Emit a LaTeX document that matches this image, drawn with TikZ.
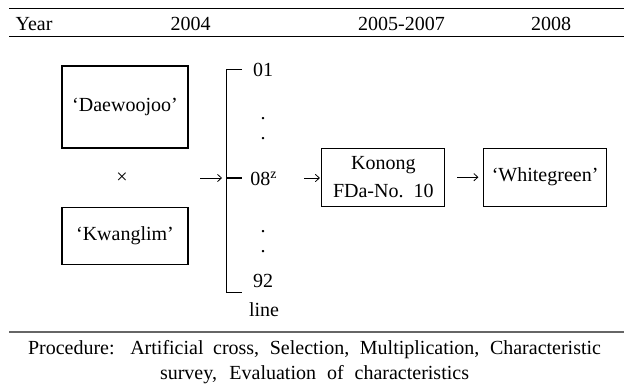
\documentclass[tikz,border=0pt]{standalone}
\usepackage{fontspec}
\setmainfont{Liberation Serif}
\usetikzlibrary{arrows.meta,positioning}
\tikzset{
  cell/.style={font=\fontsize{15}{18}\selectfont,inner sep=0pt},
  box/.style={
    draw,
    line width=0.8pt,
    align=center,
    inner sep=2pt,
    font=\fontsize{15}{20.5}\selectfont
  },
  parent/.style={box,minimum width=94.5pt},
  stage/.style={box,minimum width=92.25pt,minimum height=43.5pt},
  rule/.style={line width=1pt},
  footrule/.style={line width=1.2pt,draw=black!60},
  flow/.style={-{Straight Barb[length=3pt,width=5.5pt]},line width=0.6pt},
  bracket/.style={line width=0.8pt}
}

\begin{document}
\begin{tikzpicture}[x=0.75pt,y=-0.75pt]
  \useasboundingbox (0,0) rectangle (624,386);

  % Header rules and years.
  \draw[rule] (9,8.3) -- (624,8.3);
  \draw[rule] (9,36.7) -- (624,36.7);
  \node[cell,anchor=base] (hyear) at (34,30) {Year};
  \node[cell,anchor=base] (h2004) at (190.5,30) {2004};
  \node[cell,anchor=base] (h2005) at (401.5,30) {2005-2007};
  \node[cell,anchor=base] (h2008) at (551,30) {2008};

  % Parents and cross.
  \node[parent,minimum height=61.5pt] (dae) at (125,107) {`Daewoojoo'};
  \node[parent,minimum height=42.75pt,below=43.5pt of dae] (kwang) {`Kwanglim'};
  \node[cell] (cross) at (122,178) {×};

  % Selected lines.
  \draw[bracket] (242,69.3) -- (226.7,69.3) -- (226.7,292.3) -- (242,292.3);
  \draw[bracket] (226.7,178) coordinate (brmid) -- (242,178);
  \coordinate (join) at (200,178);
  \draw[flow,shorten >=3.5pt] (join) -- (brmid);
  \node[cell,anchor=base] (l01) at (263,76) {01};
  \node[cell] (d1) at (263,119) {.};
  \node[cell] (d2) at (263,139) {.};
  \node[cell,anchor=base west] (l08) at (250,185) {08\textsuperscript{z}};
  \node[cell] (d3) at (263,232) {.};
  \node[cell] (d4) at (263,252) {.};
  \node[cell,anchor=base] (l92) at (263,287.5) {92};
  \node[cell,anchor=base] (lline) at (264,316) {line};

  % Line test and cultivar.
  \node[stage] (konong) at (383.3,177.2) {Konong\\FDa-No.~~10};
  \node[stage,right=28.3pt of konong] (white) {`Whitegreen'};
  \draw[flow,shorten <=20pt,shorten >=1pt] (brmid -| l08.east) -- (brmid -| konong.west);
  \draw[flow,shorten <=9pt,shorten >=3.5pt] (konong) -- (white);

  % Procedure note.
  \draw[footrule] (9,331.7) -- (624,331.7);
  \node[cell,font=\fontsize{15}{18.75}\selectfont,align=center] (proc) at (314.5,362)
    {\makebox[429.75pt][s]{Procedure: Artificial cross, Selection, Multiplication, Characteristic}\\
     \makebox[231.75pt][s]{survey, Evaluation of characteristics}};
\end{tikzpicture}
\end{document}
